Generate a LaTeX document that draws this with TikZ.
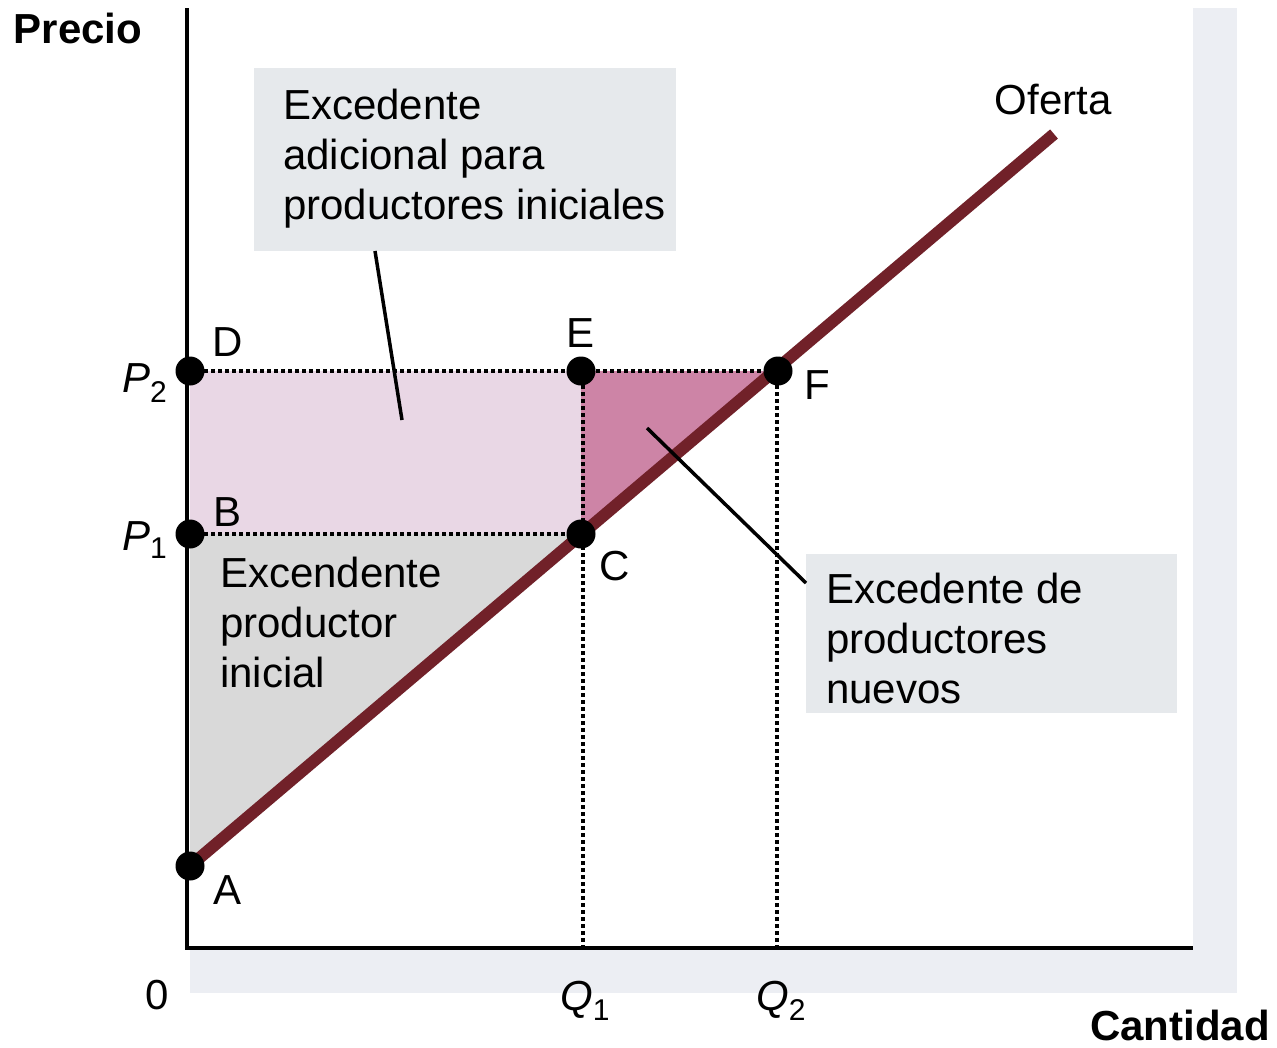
\documentclass[tikz,border=0pt]{standalone}
\usepackage{fontspec}
\setmainfont{Liberation Sans}
\usetikzlibrary{calc}
\definecolor{lpink}{RGB}{233,215,229}
\definecolor{dpink}{RGB}{205,132,166}
\definecolor{lgray}{RGB}{217,217,217}
\definecolor{boxfill}{RGB}{230,233,236}
\definecolor{supply}{RGB}{113,33,41}
\definecolor{shadow}{RGB}{236,238,243}
\tikzset{
  txt/.style={inner sep=0pt, font=\fontsize{42}{50}\selectfont, align=left},
  lbl/.style={inner sep=0pt, font=\fontsize{42}{50}\selectfont},
  boldlbl/.style={inner sep=0pt, font=\fontsize{42}{50}\selectfont\bfseries},
  labelbox/.style={fill=boxfill, draw=none, inner sep=0pt},
  dotline/.style={line width=4pt, dash pattern=on 3.5pt off 3.5pt},
  axis/.style={line width=4pt},
  conn/.style={line width=3.5pt},
  pt/.style={circle, fill=black, minimum size=29pt, inner sep=0pt},
}
\begin{document}
\begin{tikzpicture}[x=1pt,y=-1pt]
\useasboundingbox (0,0) rectangle (1277,1047);
% shadow and plot area
\fill[shadow] (190,8) rectangle (1237,993);
\fill[white] (187,8) rectangle (1193,948);
% key points
\coordinate (A) at (190,866);
\coordinate (B) at (190,534);
\coordinate (C) at (581,534);
\coordinate (D) at (190,371);
\coordinate (E) at (581,371);
\coordinate (F) at (778,371);
\coordinate (S) at (1054,134);
\coordinate (O) at (187,948);
\coordinate (Ytop) at (187,8);
\coordinate (Xend) at (1193,948);
\coordinate (Eb) at (583,948);
\coordinate (Fb) at (777,948);
\coordinate (Et) at (583,371);
\coordinate (Ft) at (777,371);
% areas
\fill[lpink] (B) rectangle (E);
\fill[dpink] (E) -- (F) -- (C) -- cycle;
\fill[lgray] (A) -- (B) -- (C) -- cycle;
% dotted lines
\draw[dotline] (D) -- (F);
\draw[dotline] (B) -- (C);
\draw[dotline] (Et) -- (Eb);
\draw[dotline] (Ft) -- (Fb);
% supply
\draw[supply, line width=12pt] (A) -- (S);
% label boxes
\node[labelbox, minimum width=422pt, minimum height=183pt, anchor=north west] (box1) at (254,68) {};
\node[txt, anchor=north west] (t1) at (283,89) {Excedente\\adicional para\\productores iniciales};
\node[labelbox, minimum width=371pt, minimum height=159pt, anchor=north west] (box2) at (806,554) {};
\node[txt, anchor=north west] (t2) at (826,573) {Excedente de\\productores\\nuevos};
\node[txt, anchor=north west] (t3) at (220,557) {Excendente\\productor\\inicial};
% connectors
\coordinate (c1a) at (375,251);
\coordinate (c1b) at (402,420);
\coordinate (c2a) at (806,583);
\coordinate (c2b) at (647,428);
\draw[conn] (c1a) -- (c1b);
\draw[conn] (c2a) -- (c2b);
% axes
\draw[axis] (Ytop) -- (O) -- (Xend);
% points
\node[pt] (pA) at (A) {};
\node[pt] (pB) at (B) {};
\node[pt] (pC) at (C) {};
\node[pt] (pD) at (D) {};
\node[pt] (pE) at (E) {};
\node[pt] (pF) at (F) {};
% point labels
\node[lbl] (lD) at (228,342) {D};
\node[lbl] (lE) at (581,333) {E};
\node[lbl] (lF) at (817,385) {F};
\node[lbl] (lB) at (228,512) {B};
\node[lbl] (lC) at (615,566) {C};
\node[lbl] (lA) at (228,890) {A};
\node[lbl] (oferta) at (1053,100) {Oferta};
\node[lbl] (zero) at (157,995) {0};
% axis labels
\node[boldlbl] (precio) at (78,28) {Precio};
\node[boldlbl] (cantidad) at (1180,1025) {Cantidad};
\node[lbl, anchor=base west] (P2) at (122,392) {\textit{P}\raisebox{-10pt}{\fontsize{30}{30}\selectfont 2}};
\node[lbl, anchor=base west] (P1) at (122,550) {\textit{P}\raisebox{-8pt}{\fontsize{30}{30}\selectfont 1}};
\node[lbl, anchor=base west] (Q1) at (560,1010) {\textit{Q}\raisebox{-10pt}{\fontsize{30}{30}\selectfont 1}};
\node[lbl, anchor=base west] (Q2) at (756,1010) {\textit{Q}\raisebox{-10pt}{\fontsize{30}{30}\selectfont 2}};
\end{tikzpicture}
\end{document}
